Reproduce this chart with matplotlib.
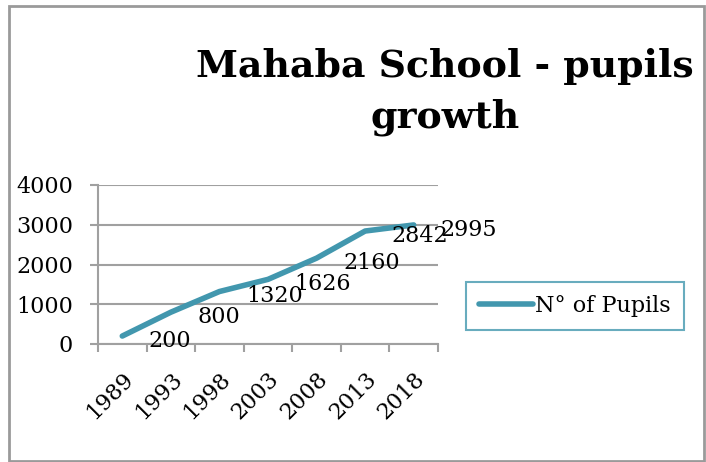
import numpy as np
import matplotlib.pyplot as plt
from matplotlib.patches import Rectangle

# data
years = ['1989', '1993', '1998', '2003', '2008', '2013', '2018']
pupils = [200, 800, 1320, 1626, 2160, 2842, 2995]

line_color = '#4297AE'
grid_color = '#A0A0A0'
font = 'DejaVu Serif'

plt.rcParams['font.family'] = font

W, H = 706, 462
fig = plt.figure(figsize=(W / 100, H / 100), dpi=100)

# chart border
fig.patches.append(Rectangle((9 / W, 1 - 461 / H), 695 / W, 455 / H,
                             transform=fig.transFigure, fill=False,
                             edgecolor='#9A9A9A', lw=2))

ax = fig.add_axes([98 / W, 1 - 344 / H, 340 / W, 159 / H])
x = np.arange(len(years))
ax.plot(x, pupils, color=line_color, lw=4, solid_capstyle='round',
        label='N° of Pupils')

# data labels to the right of each point
for xi, v in zip(x, pupils):
    ax.annotate(str(v), (xi, v), xytext=(19, -3.5), textcoords='offset points',
                ha='left', va='center', fontsize=16)

ax.set_xlim(-0.5, len(years) - 0.5)
ax.set_ylim(0, 4000)
ax.set_yticks([0, 1000, 2000, 3000, 4000])
ax.yaxis.grid(True, color=grid_color, lw=1.5)
ax.set_axisbelow(True)

ax.set_xticks(np.arange(-0.5, len(years)))
ax.set_xticklabels([])
ax.set_xticks(x, minor=True)
ax.set_xticklabels(years, minor=True, rotation=45, ha='right',
                   rotation_mode='anchor', fontsize=16)
ax.tick_params(axis='x', which='major', length=6, width=1.5, color=grid_color)
ax.tick_params(axis='x', which='minor', length=0, pad=17)
ax.tick_params(axis='y', length=6, width=1.5, color=grid_color, labelsize=16, pad=12)

for s in ['top', 'right']:
    ax.spines[s].set_visible(False)
for s in ['left', 'bottom']:
    ax.spines[s].set_color(grid_color)
    ax.spines[s].set_linewidth(1.5)

# title, two lines
fig.text(445 / W, 1 - 77 / H, 'Mahaba School - pupils', ha='center',
         va='baseline', fontsize=27.3, fontweight='bold')
fig.text(445 / W, 1 - 127 / H, 'growth', ha='center',
         va='baseline', fontsize=27.3, fontweight='bold')

leg = fig.legend(loc='center', bbox_to_anchor=(575 / W, 1 - 306 / H),
                 fontsize=16, frameon=True, fancybox=False, handlelength=2.4,
                 handletextpad=0.1, borderpad=0.6)
leg.get_frame().set_edgecolor(line_color)
leg.get_frame().set_linewidth(1.5)

fig.savefig('out.png', dpi=100)
